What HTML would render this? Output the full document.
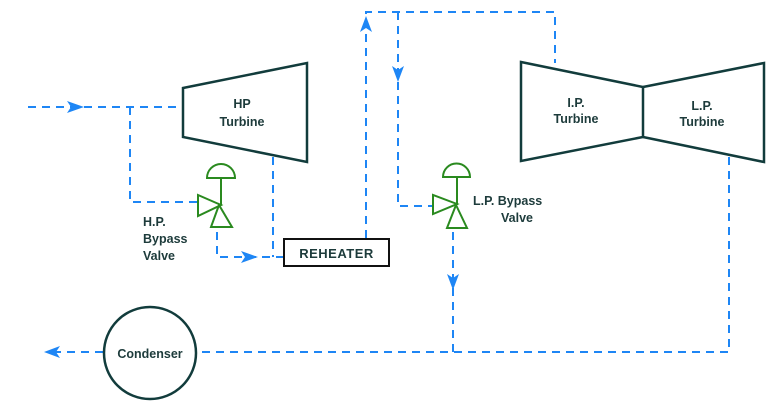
<!DOCTYPE html>
<html><head><meta charset="utf-8"><style>
html,body{margin:0;padding:0;background:#fff;}
svg{display:block;}
text{font-family:"Liberation Sans",Arial,sans-serif;font-weight:bold;fill:#1d3b3b;}
</style></head><body>
<svg width="780" height="402" viewBox="0 0 780 402" xmlns="http://www.w3.org/2000/svg">
<g fill="none" stroke="#1e86f5" stroke-width="2" stroke-dasharray="8 6">
  <!-- inlet -->
  <path d="M28 107 H183"/>
  <!-- HP bypass branch -->
  <path d="M130 107 V202 H198"/>
  <!-- HP valve outlet to reheater -->
  <path d="M217 232 V257 H284"/>
  <!-- HP turbine exhaust -->
  <path d="M273 157 V257"/>
  <!-- reheater up -->
  <path d="M366 238 V12 H555 V63"/>
  <!-- LP bypass line -->
  <path d="M398 12 V206 H433"/>
  <!-- LP valve down -->
  <path d="M453 232 V352"/>
  <!-- LP exhaust to condenser -->
  <path d="M729 157 V352 H197"/>
  <!-- condenser out -->
  <path d="M103 352 H48"/>
</g>
<!-- arrowheads -->
<g fill="#1e86f5">
  <path d="M84 107 L67 101 L71 107 L67 113 Z"/>
  <path d="M258 257 L241 251 L245 257 L241 263 Z"/>
  <path d="M366 16 L360 32 L366 28 L372 32 Z"/>
  <path d="M398 82 L392 66 L398 70 L404 66 Z"/>
  <path d="M453 290 L447 274 L453 278 L459 274 Z"/>
  <path d="M44 352 L60 346 L56 352 L60 358 Z"/>
</g>
<!-- turbines -->
<g fill="none" stroke="#123c3c" stroke-width="2.5" stroke-linejoin="miter">
  <path d="M183 88 L307 63 L307 162 L183 137 Z"/>
  <path d="M521 62 L643 87 L643 137 L521 161 Z"/>
  <path d="M643 87 L764 63 L764 162 L643 137"/>
  <circle cx="150" cy="353" r="46"/>
</g>
<!-- reheater -->
<rect x="284" y="239" width="105" height="27" fill="#fff" stroke="#111" stroke-width="2"/>
<text x="336.5" y="258" font-size="13" text-anchor="middle" letter-spacing="0.5">REHEATER</text>
<!-- valves -->
<g fill="none" stroke="#2a8a1f" stroke-width="2">
  <path d="M207 178 A14 14 0 0 1 235 178 Z"/>
  <path d="M221 178 V205"/>
  <path d="M198 195 L198 216 L221 205 Z"/>
  <path d="M219 205 L211 227 L232 227 Z"/>
  <path d="M443 177 A13.5 13.5 0 0 1 470 177 Z"/>
  <path d="M457 177 V205"/>
  <path d="M433 195 L433 214 L457 204 Z"/>
  <path d="M456 205 L447 228 L467 228 Z"/>
</g>
<!-- labels -->
<g font-size="12.5">
  <text x="242" y="108" text-anchor="middle">HP</text>
  <text x="242" y="126" text-anchor="middle">Turbine</text>
  <text x="576" y="107" text-anchor="middle">I.P.</text>
  <text x="576" y="123" text-anchor="middle">Turbine</text>
  <text x="702" y="110" text-anchor="middle">L.P.</text>
  <text x="702" y="126" text-anchor="middle">Turbine</text>
  <text x="143" y="226">H.P.</text>
  <text x="143" y="243">Bypass</text>
  <text x="143" y="260">Valve</text>
  <text x="473" y="205">L.P. Bypass</text>
  <text x="517" y="222" text-anchor="middle">Valve</text>
  <text x="150" y="358" text-anchor="middle">Condenser</text>
</g>
</svg>
</body></html>
